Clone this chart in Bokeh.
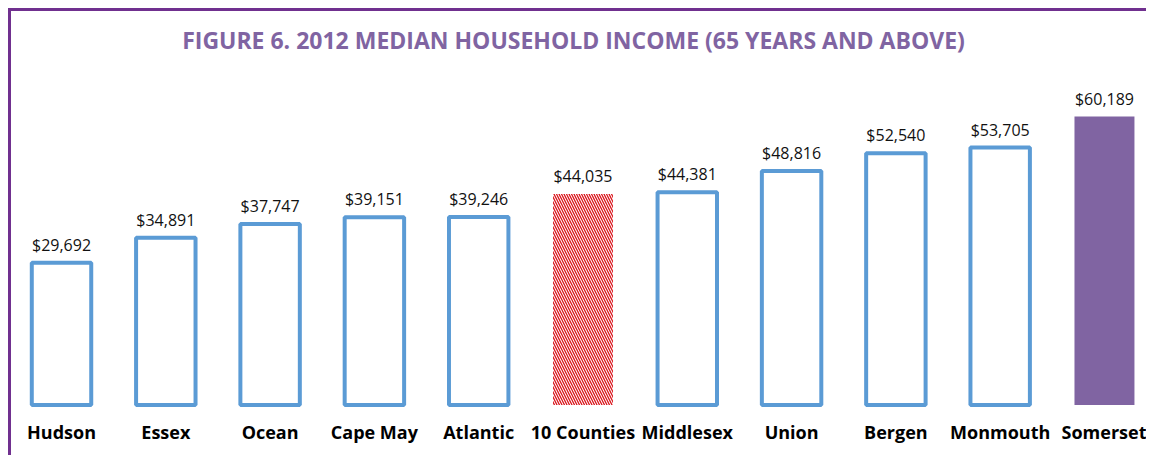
from bokeh.plotting import figure
from bokeh.models import ColumnDataSource, Range1d, FixedTicker
from bokeh.core.properties import value
from bokeh.embed import file_html
from bokeh.resources import INLINE

# ---- data ----
counties = ["Hudson", "Essex", "Ocean", "Cape May", "Atlantic", "10 Counties",
            "Middlesex", "Union", "Bergen", "Monmouth", "Somerset"]
income = [29692, 34891, 37747, 39151, 39246, 44035, 44381, 48816, 52540, 53705, 60189]
hatched_name = "10 Counties"
highlight_name = "Somerset"
title_text = "FIGURE 6. 2012 MEDIAN HOUSEHOLD INCOME (65 YEARS AND ABOVE)"

xs = list(range(len(counties)))
labels = [f"${v:,}" for v in income]


def subset(pred):
    idx = [i for i, c in enumerate(counties) if pred(c)]
    return ColumnDataSource(dict(x=[xs[i] for i in idx], top=[income[i] for i in idx],
                                 label=[labels[i] for i in idx]))


src_plain = subset(lambda c: c not in (hatched_name, highlight_name))
src_hatch = subset(lambda c: c == hatched_name)
src_high = subset(lambda c: c == highlight_name)
src_all = ColumnDataSource(dict(x=xs, top=income, label=labels))

FRAME = "#70308f"

p = figure(width=1146, height=455, output_backend="svg", toolbar_location=None,
           x_range=Range1d(-0.585, 10.403), y_range=Range1d(-939, 71873),
           min_border_left=0, min_border_right=0, min_border_top=60, min_border_bottom=46)

p.styles = {
    "background": (f"linear-gradient({FRAME},{FRAME}) 8px 8px / calc(100% - 8px) 3px no-repeat, "
                   f"linear-gradient({FRAME},{FRAME}) 8px 8px / 3px calc(100% - 8px) no-repeat, #ffffff"),
}

p.title.text = title_text
p.title.align = "center"
p.title.text_font = "Open Sans"
p.title.text_font_size = "23px"
p.title.text_font_style = "bold"
p.title.text_color = "#8064a2"
p.title.standoff = 10

p.vbar(x="x", top="top", bottom=0, width=0.57, source=src_plain,
       fill_color="white", line_color="#5b9bd5", line_width=4)
p.vbar(x="x", top="top", bottom=0, width=0.575, source=src_hatch,
       fill_color="white", line_color=None, hatch_pattern="\\",
       hatch_color="#d9141b", hatch_scale=5, hatch_weight=1.3)
p.vbar(x="x", top="top", bottom=0, width=0.575, source=src_high,
       fill_color="#8064a2", line_color=None)

p.text(x="x", y="top", text="label", source=src_all, text_align="center",
       text_baseline="bottom", y_offset=-7, text_font=value("Open Sans"),
       text_font_size="16px", text_color="#111111")

p.xaxis.ticker = FixedTicker(ticks=xs)
p.xaxis.major_label_overrides = {x: c for x, c in zip(xs, counties)}
p.xaxis.axis_line_color = None
p.xaxis.major_tick_line_color = None
p.xaxis.minor_tick_line_color = None
p.xaxis.major_tick_out = 0
p.xaxis.major_label_standoff = 10
p.xaxis.major_label_text_font = "Open Sans"
p.xaxis.major_label_text_font_size = "18px"
p.xaxis.major_label_text_font_style = "bold"
p.xaxis.major_label_text_color = "#000000"
p.yaxis.visible = False
p.xgrid.visible = False
p.ygrid.visible = False
p.outline_line_color = None
p.background_fill_color = None
p.border_fill_color = None

open("out.html", "w").write(file_html(p, INLINE))
